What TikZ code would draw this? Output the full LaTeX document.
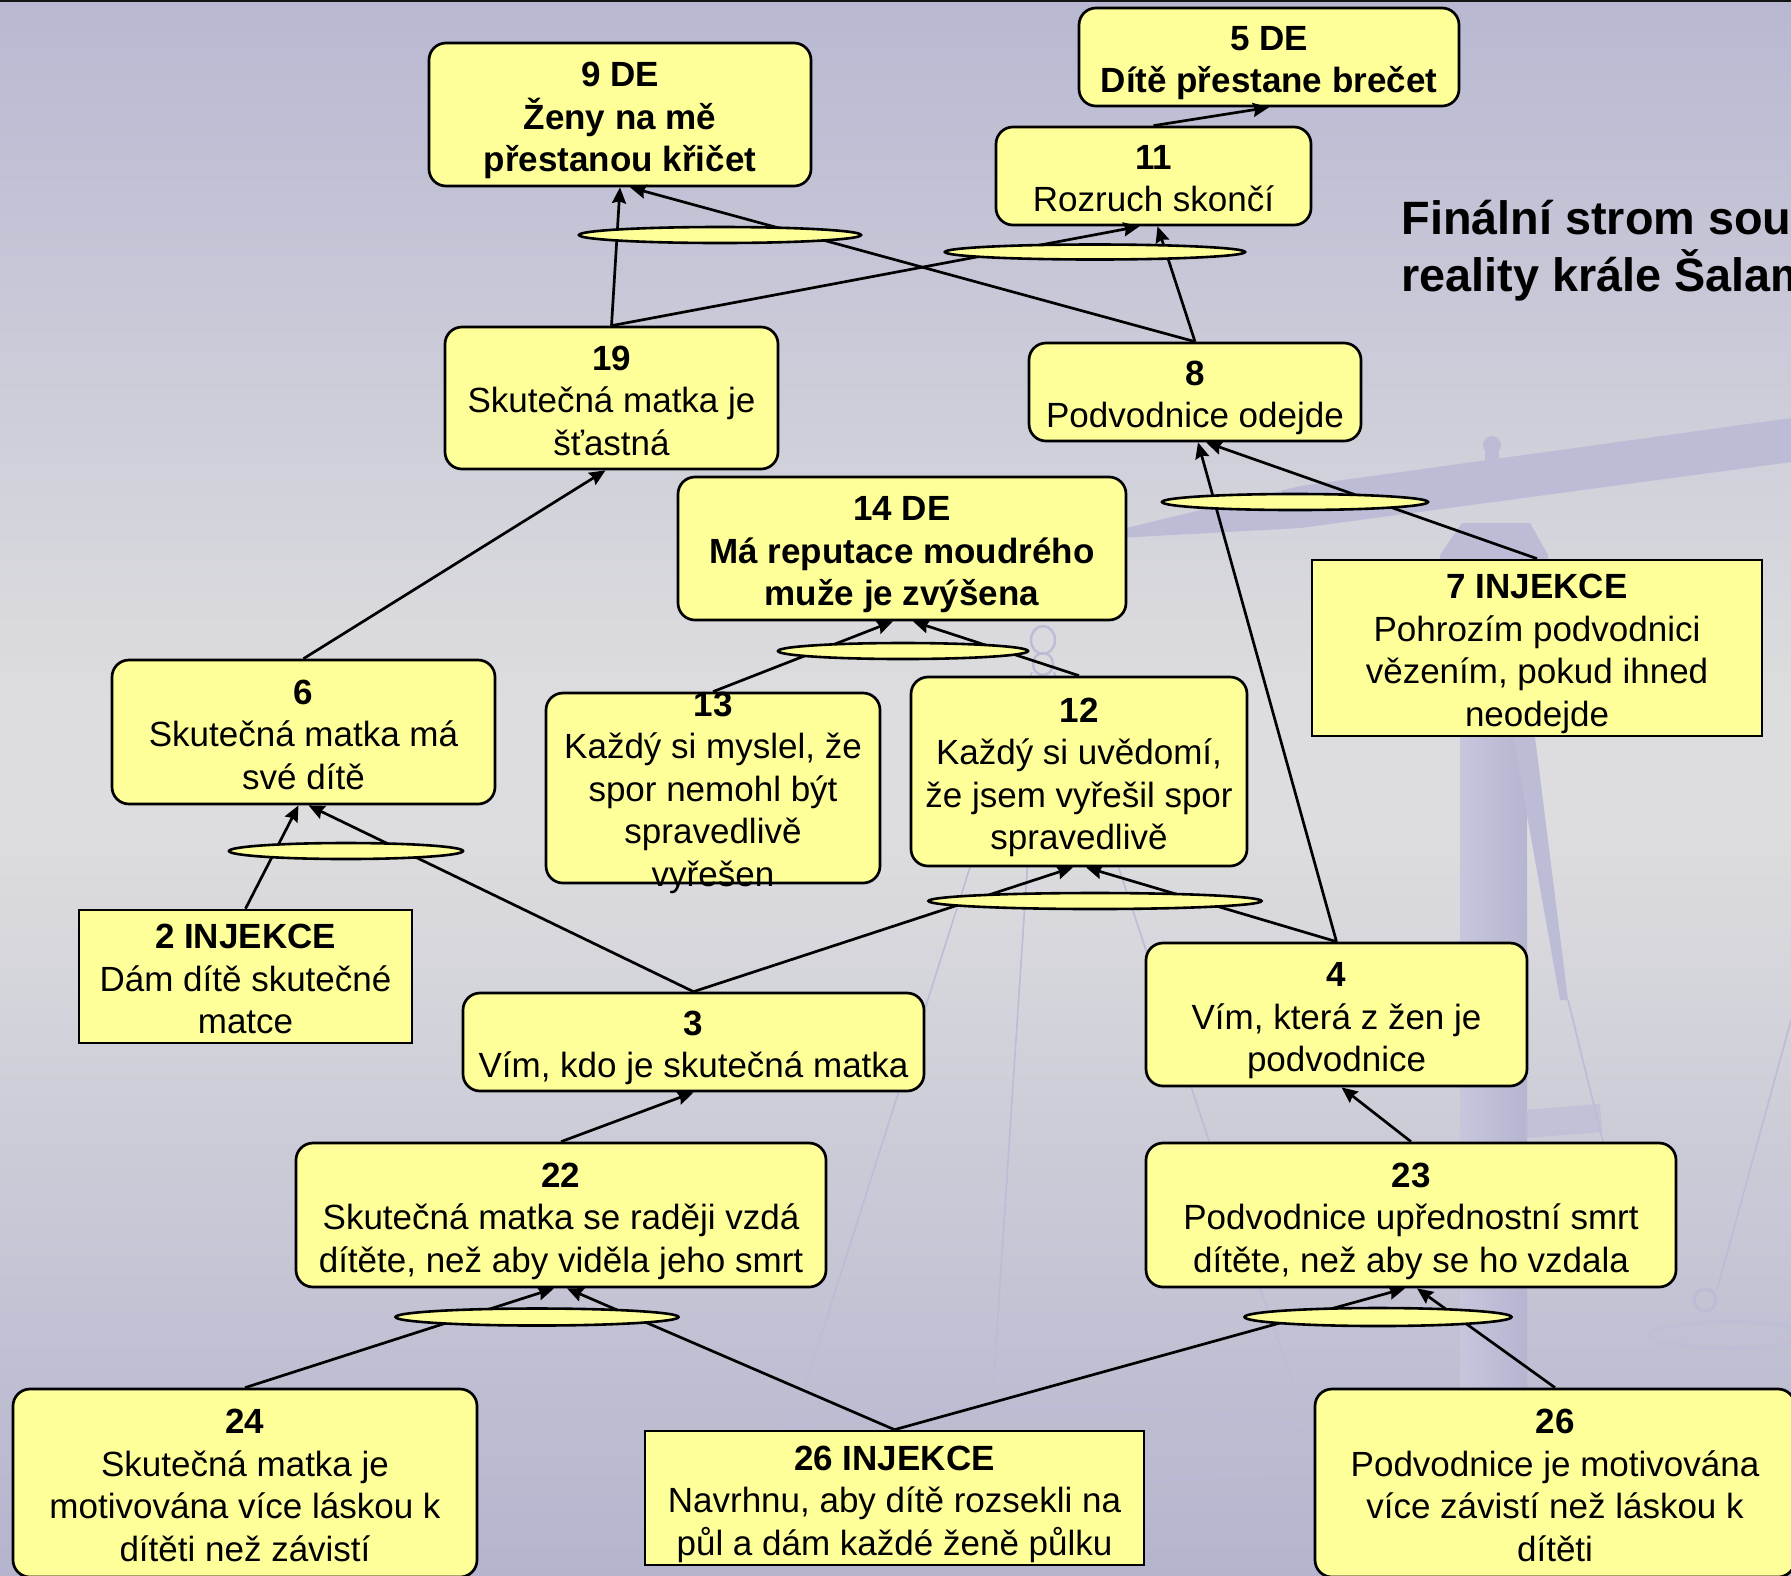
\documentclass[tikz,border=0pt]{standalone}
\usepackage{fontspec}
\setmainfont{Liberation Sans}
\usetikzlibrary{shapes.geometric,arrows.meta,calc}
\definecolor{bgtop}{RGB}{184,184,210}
\definecolor{bgmid}{RGB}{221,221,223}
\definecolor{bgbot}{RGB}{180,180,206}
\definecolor{boxfill}{RGB}{255,255,153}
\definecolor{scalecol}{RGB}{188,188,215}
\definecolor{pilL}{RGB}{198,198,221}
\definecolor{pilR}{RGB}{181,181,209}
\newcommand\mytop{\rule{0pt}{18.4pt}}
\newcommand\mybot{\rule[-3.7pt]{0pt}{0pt}}
\begin{document}
\begin{tikzpicture}[x=0.5pt,y=-0.5pt,
  every node/.style={font=\fontsize{17.5}{21.25}\selectfont, align=center, inner sep=0pt},
  rbox/.style={draw=black, line width=1.35pt, fill=boxfill, rounded corners=8.5pt},
  sbox/.style={draw=black, line width=1.35pt, fill=boxfill},
  allbold/.style={font=\fontsize{17.5}{21.25}\selectfont\bfseries},
  oval/.style={ellipse, draw=black, line width=1.3pt, fill=boxfill},
  conn/.style={line width=1.35pt, -{Stealth[length=8pt,width=7pt,inset=1pt]}},
  scaleline/.style={draw=scalecol, line width=0.8pt}]
\useasboundingbox (0,0) rectangle (1791,1575);
% background
\shade[top color=bgtop, bottom color=bgmid] (0,0) rectangle (1791,700);
\fill[bgmid] (0,699) rectangle (1791,831);
\shade[top color=bgmid, bottom color=bgbot] (0,830) rectangle (1791,1575);
% faint scale in background
\shade[left color=pilL, right color=pilR] (1460,560) rectangle (1527,1575);
\fill[scalecol] (1513,737) -- (1535,737) -- (1568,1000) -- (1560,1000) -- cycle;
\fill[scalecol] (1440,585) -- (1440,555) -- (1462,523) -- (1530,523) -- (1548,555) -- (1548,585) -- cycle;
\fill[scalecol] (1118,530) -- (1300,486) -- (1791,418) -- (1791,462) -- (1300,528) -- (1118,538) -- cycle;
\fill[scalecol] (1492,445) circle[radius=9];
\fill[scalecol] (1485,445) rectangle (1499,470);
\draw[scaleline, line width=1.2pt] (1043,640) ellipse[x radius=12, y radius=14];
\draw[scaleline, line width=1.2pt] (1043,664) ellipse[x radius=10, y radius=11];
\draw[scaleline] (1032,672) -- (794,1421);
\draw[scaleline] (1040,674) -- (993,1390);
\draw[scaleline] (1054,672) -- (1211,1147) -- (1300,1402);
\draw[scaleline, line width=2pt, opacity=0.6] (1050,1445) ellipse[x radius=290, y radius=38];
\draw[scaleline] (1568,1000) -- (1603,1142);
\draw[scaleline] (1791,1020) -- (1717,1290);
\fill[scalecol, opacity=0.7] (1525,1110) -- (1600,1104) -- (1602,1132) -- (1525,1138) -- cycle;
\draw[scaleline, line width=1.5pt] (1705,1300) circle[radius=11];
\draw[scaleline, line width=2pt, opacity=0.6] (1730,1335) ellipse[x radius=80, y radius=13];
% top border
\draw[line width=1pt, color={rgb,255:red,20;green,20;blue,20}] (0,1) -- (1791,1);
% title
\node[font=\fontsize{23.4}{28.5}\selectfont\bfseries, align=left, anchor=base west] (title) at (1401,291) {Finální strom sou\\reality krále Šalam};
% boxes
\node[rbox, allbold, minimum width=191pt, minimum height=71.5pt] (n9) at (620,114.5) {\mytop 9 DE\\Ženy na mě\\přestanou křičet\mybot};
\node[rbox, allbold, minimum width=190pt, minimum height=49pt] (n5) at (1269,57) {\mytop 5 DE\\Dítě přestane brečet\mybot};
\node[rbox, minimum width=157.5pt, minimum height=49pt] (n11) at (1153.5,176) {\mytop\textbf{11}\\Rozruch skončí\mybot};
\node[rbox, minimum width=166.5pt, minimum height=71pt] (n19) at (611.5,398) {\mytop\textbf{19}\\Skutečná matka je\\šťastná\mybot};
\node[rbox, minimum width=166pt, minimum height=49pt] (n8) at (1195,392) {\mytop\textbf{8}\\Podvodnice odejde\mybot};
\node[rbox, allbold, minimum width=224pt, minimum height=71.5pt] (n14) at (902,548.5) {\mytop 14 DE\\Má reputace moudrého\\muže je zvýšena\mybot};
\node[sbox, minimum width=225pt, minimum height=88pt] (n7) at (1537,648) {\mytop\textbf{7 INJEKCE}\\Pohrozím podvodnici\\vězením, pokud ihned\\neodejde\mybot};
\node[rbox, minimum width=191.5pt, minimum height=72pt] (n6) at (303.5,732) {\mytop\textbf{6}\\Skutečná matka má\\své dítě\mybot};
\node[rbox, minimum width=167pt, minimum height=95pt] (n13) at (713,788) {};
\node (t13) at (713,786.5) {\mytop\textbf{13}\\Každý si myslel, že\\spor nemohl být\\spravedlivě\\vyřešen\mybot};
\node[rbox, minimum width=168pt, minimum height=94.5pt] (n12) at (1079,771.5) {\mytop\textbf{12}\\Každý si uvědomí,\\že jsem vyřešil spor\\spravedlivě\mybot};
\node[sbox, minimum width=166.5pt, minimum height=66.5pt] (n2) at (245.5,976.5) {\mytop\textbf{2 INJEKCE}\\Dám dítě skutečné\\matce\mybot};
\node[rbox, minimum width=230.5pt, minimum height=49pt] (n3) at (693.5,1042) {\mytop\textbf{3}\\Vím, kdo je skutečná matka\mybot};
\node[rbox, minimum width=190.5pt, minimum height=71.5pt] (n4) at (1336.5,1014.5) {\mytop\textbf{4}\\Vím, která z žen je\\podvodnice\mybot};
\node[rbox, minimum width=265pt, minimum height=72pt] (n22) at (561,1215) {\mytop\textbf{22}\\Skutečná matka se raději vzdá\\dítěte, než aby viděla jeho smrt\mybot};
\node[rbox, minimum width=265pt, minimum height=72pt] (n23) at (1411,1215) {\mytop\textbf{23}\\Podvodnice upřednostní smrt\\dítěte, než aby se ho vzdala\mybot};
\node[rbox, minimum width=232pt, minimum height=94pt] (n24) at (245,1483) {\mytop\textbf{24}\\Skutečná matka je\\motivována více láskou k\\dítěti než závistí\mybot};
\node[sbox, minimum width=249.5pt, minimum height=67pt] (n26i) at (894.5,1498) {\mytop\textbf{26 INJEKCE}\\Navrhnu, aby dítě rozsekli na\\půl a dám každé ženě půlku\mybot};
\node[rbox, minimum width=240pt, minimum height=94pt] (n26) at (1555,1483) {\mytop\textbf{26}\\Podvodnice je motivována\\více závistí než láskou k\\dítěti\mybot};
% connectors
\draw[conn] (n11.north) -- (n5.south);
\draw[conn] (n19.north) -- (n9.south);
\draw[conn] (n8.north) -- ($(n9.south)+(10,0)$);
\draw[conn] (n19.north) -- ($(n11.south)+(-14,0)$);
\draw[conn] (n8.north) -- ($(n11.south)+(4,0)$);
\draw[conn] (n7.north) -- ($(n8.south)+(11,0)$);
\draw[conn] (n4.north) -- ($(n8.south)+(3,0)$);
\draw[conn] (n6.north) -- ($(n19.south)+(-6,0)$);
\draw[conn] (n13.north) -- ($(n14.south)+(-9,0)$);
\draw[conn] (n12.north) -- ($(n14.south)+(11,0)$);
\draw[conn] (n2.north) -- ($(n6.south)+(-5,0)$);
\draw[conn] (n3.north) -- ($(n6.south)+(5,0)$);
\draw[conn] (n3.north) -- ($(n12.south)+(-6,0)$);
\draw[conn] (n4.north) -- ($(n12.south)+(7,0)$);
\draw[conn] (n22.north) -- (n3.south);
\draw[conn] (n23.north) -- ($(n4.south)+(5,0)$);
\draw[conn] (n24.north) -- ($(n22.south)+(-7,0)$);
\draw[conn] (n26i.north) -- ($(n22.south)+(6,0)$);
\draw[conn] (n26i.north) -- ($(n23.south)+(-6,0)$);
\draw[conn] (n26.north) -- ($(n23.south)+(6,0)$);
% AND ellipses
\node[oval, minimum width=141pt, minimum height=8pt] (e1) at (720,235) {};
\node[oval, minimum width=150pt, minimum height=7.5pt] (e2) at (1095,252) {};
\node[oval, minimum width=133pt, minimum height=8pt] (e3) at (1295,502) {};
\node[oval, minimum width=125pt, minimum height=8pt] (e4) at (903,651) {};
\node[oval, minimum width=117pt, minimum height=8pt] (e5) at (346,851) {};
\node[oval, minimum width=166.5pt, minimum height=8pt] (e6) at (1095,901) {};
\node[oval, minimum width=141.5pt, minimum height=8.5pt] (e7) at (537,1317) {};
\node[oval, minimum width=133.5pt, minimum height=9pt] (e8) at (1378,1317) {};
\end{tikzpicture}
\end{document}
